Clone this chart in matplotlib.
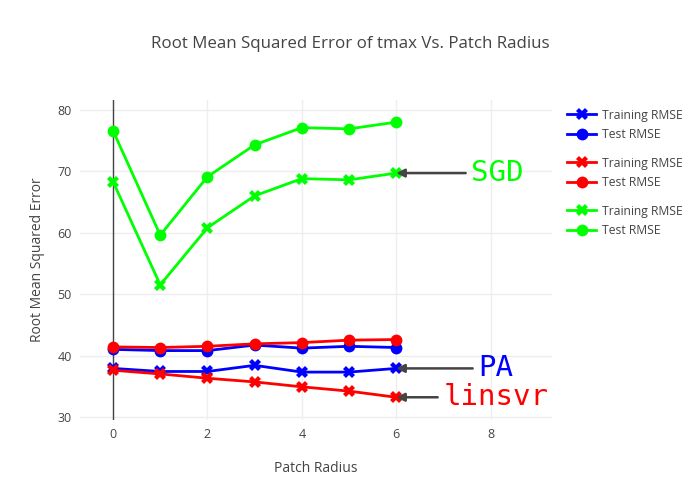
import numpy as np
import matplotlib
matplotlib.use("Agg")
import matplotlib.pyplot as plt
from matplotlib.lines import Line2D

# === data ===
radius = [0, 1, 2, 3, 4, 5, 6]

pa_train = [37.9, 37.4, 37.4, 38.4, 37.3, 37.3, 37.9]
pa_test = [41.0, 40.8, 40.8, 41.7, 41.2, 41.5, 41.3]
svr_train = [37.6, 37.0, 36.3, 35.7, 34.9, 34.2, 33.2]
svr_test = [41.4, 41.3, 41.5, 41.9, 42.1, 42.5, 42.6]
sgd_train = [68.3, 51.5, 60.8, 66.0, 68.8, 68.6, 69.7]
sgd_test = [76.6, 59.6, 69.1, 74.3, 77.1, 76.9, 78.0]

models = ['PA', 'linsvr', 'SGD']
colors = ['#0000ff', '#ff0000', '#00ff00']
train_sets = [pa_train, svr_train, sgd_train]
test_sets = [pa_test, svr_test, sgd_test]

x_ticks = [0, 2, 4, 6, 8]
y_ticks = [30, 40, 50, 60, 70, 80]

plt.rcParams['font.family'] = ['Open Sans', 'DejaVu Sans']
txt = '#444444'

fig = plt.figure(figsize=(7, 5), dpi=100)
ax = fig.add_axes([80 / 700, 1 - 420 / 500, 472 / 700, 320 / 500])

for tr, te, c in zip(train_sets, test_sets, colors):
    ax.plot(radius, tr, color=c, lw=2, marker='X', ms=9, mew=0, zorder=3)
    ax.plot(radius, te, color=c, lw=2, marker='o', ms=8.5, mew=0, zorder=3)

ax.set_xlim(-0.7, 9.3)
ax.set_ylim(29.5, 81.6)
ax.set_xticks(x_ticks)
ax.set_yticks(y_ticks)
ax.tick_params(length=0, labelsize=9, colors=txt, pad=6)
ax.grid(color='#eeeeee', lw=1)
ax.set_axisbelow(True)
for s in ax.spines.values():
    s.set_visible(False)
ax.axvline(0, color='#444444', lw=1, zorder=2)

ax.set_xlabel('Patch Radius', fontsize=10, color=txt, labelpad=14)
ax.set_ylabel('Root Mean Squared Error', fontsize=10, color=txt, labelpad=9)
fig.text(350 / 700, 1 - 44 / 500, 'Root Mean Squared Error of tmax Vs. Patch Radius',
         ha='center', va='center', fontsize=12.2, color=txt)

# annotations at the last point of each training curve
offsets = [80, 45, 73]
for name, tr, c, off in zip(models, train_sets, colors, offsets):
    ax.annotate(name, xy=(radius[-1], tr[-1]), xytext=(off + 2, 0),
                textcoords='offset pixels', ha='left', va='center',
                fontsize=21, color=c, family='DejaVu Sans Mono',
                arrowprops=dict(arrowstyle='-|>', color='#444444', lw=1.8,
                                shrinkA=2, shrinkB=0, mutation_scale=12))

# legend, one block per model
tops = [0.795, 0.699, 0.603]
for c, top in zip(colors, tops):
    handles = [Line2D([], [], color=c, lw=2, marker='X', ms=9, mew=0),
               Line2D([], [], color=c, lw=2, marker='o', ms=8.5, mew=0)]
    leg = fig.legend(handles, ['Training RMSE', 'Test RMSE'], loc='upper left',
                     bbox_to_anchor=(0.801, top), frameon=False, fontsize=8.7,
                     handlelength=2.45, handletextpad=0.45, labelspacing=0.52,
                     borderpad=0.0, labelcolor=txt)

fig.savefig('out.png', dpi=100)
